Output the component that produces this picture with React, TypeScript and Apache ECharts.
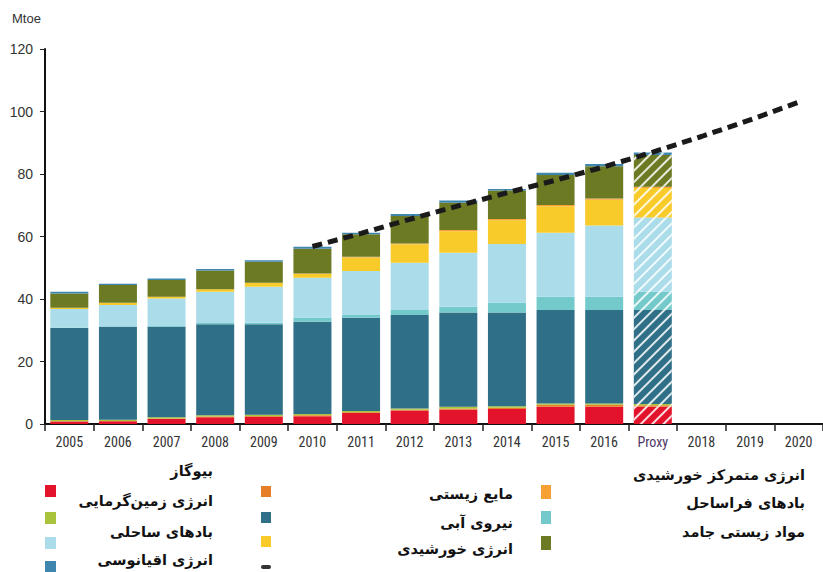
import React, { useEffect, useRef } from "react";
import * as echarts from "echarts";

const categories = ["2005", "2006", "2007", "2008", "2009", "2010", "2011", "2012", "2013", "2014", "2015", "2016", "Proxy", "2018", "2019", "2020"];
const yTicks = [0, 20, 40, 60, 80, 100, 120];

const biogas = [0.8, 0.9, 1.6, 2.2, 2.3, 2.5, 3.5, 4.3, 4.6, 4.8, 5.5, 5.5, 5.5, null, null, null];
const bioliquids = [0.1, 0.1, 0.2, 0.2, 0.3, 0.3, 0.3, 0.3, 0.4, 0.4, 0.7, 0.7, 0.5, null, null, null];
const geothermal = [0.4, 0.4, 0.4, 0.4, 0.4, 0.4, 0.4, 0.4, 0.5, 0.5, 0.4, 0.4, 0.4, null, null, null];
const hydro = [29.4, 29.7, 28.9, 29.1, 28.9, 29.5, 29.8, 29.9, 30.2, 30.0, 29.9, 29.9, 30.1, null, null, null];
const offshoreWind = [0.2, 0.2, 0.3, 0.4, 0.5, 1.4, 0.9, 1.6, 1.8, 3.1, 4.2, 4.2, 5.8, null, null, null];
const onshoreWind = [5.9, 6.8, 8.8, 10.0, 11.5, 12.7, 14.1, 15.1, 17.3, 18.8, 20.5, 22.8, 23.8, null, null, null];
const solarPV = [0.4, 0.7, 0.5, 0.8, 1.2, 1.3, 4.3, 5.9, 6.9, 7.6, 8.5, 8.3, 9.4, null, null, null];
const csp = [0, 0, 0, 0, 0.1, 0.1, 0.2, 0.3, 0.4, 0.4, 0.4, 0.4, 0.4, null, null, null];
const solidBiomass = [4.6, 5.7, 5.4, 6.0, 6.7, 7.9, 7.2, 8.8, 8.7, 9.1, 9.6, 10.3, 10.2, null, null, null];
const ocean = [0.5, 0.4, 0.5, 0.5, 0.5, 0.6, 0.5, 0.6, 0.7, 0.5, 0.7, 0.7, 0.8, null, null, null];
const trajectory = [null, null, null, null, null, 56.8, 61.0, 65.5, 69.8, 74.0, 78.0, 82.3, 87.0, 92.0, 97.3, 103.0];

const PROXY_INDEX = 12;

const seriesDefs = [
  { name: "بیوگاز", data: biogas, color: "#e3132c" },
  { name: "مایع زیستی", data: bioliquids, color: "#e67e27" },
  { name: "انرژی زمین‌گرمایی", data: geothermal, color: "#a9c43c" },
  { name: "نیروی آبی", data: hydro, color: "#2f6f87" },
  { name: "بادهای فراساحل", data: offshoreWind, color: "#74cacb" },
  { name: "بادهای ساحلی", data: onshoreWind, color: "#aadcea" },
  { name: "انرژی خورشیدی", data: solarPV, color: "#f8cb2a" },
  { name: "انرژی متمرکز خورشیدی", data: csp, color: "#f5a133" },
  { name: "مواد زیستی جامد", data: solidBiomass, color: "#6b7a23" },
  { name: "انرژی اقیانوسی", data: ocean, color: "#3f86ae" },
];

const legendFont = "bold 14.5px 'DejaVu Sans', sans-serif";

export default function App() {
  const ref = useRef<HTMLDivElement>(null);

  useEffect(() => {
    const chart = echarts.init(ref.current as HTMLDivElement, null, { renderer: "svg" });

    const decal = {
      symbol: "rect",
      symbolSize: 1,
      color: "rgba(255,255,255,0.85)",
      dashArrayX: [1, 0],
      dashArrayY: [2, 6],
      rotation: -Math.PI / 4,
    };

    const barSeries = seriesDefs.map((s) => ({
      name: s.name,
      type: "bar",
      stack: "total",
      barWidth: 38,
      itemStyle: { color: s.color },
      data: s.data.map((v, i) =>
        i === PROXY_INDEX ? { value: v, itemStyle: { color: s.color, decal } } : v
      ),
    }));

    const sq = (x: number, y: number, w: number, h: number, color: string) => ({
      type: "rect",
      shape: { x, y, width: w, height: h },
      style: { fill: color },
      silent: true,
    });
    const txt = (x: number, y: number, text: string) => ({
      type: "text",
      x,
      y,
      style: { text, font: legendFont, fill: "#111", align: "right", verticalAlign: "middle" },
      silent: true,
    });

    const option = {
      animation: false,
      backgroundColor: "#ffffff",
      grid: { left: 45, right: -7, top: 49, bottom: 148 },
      xAxis: {
        type: "category",
        data: categories,
        axisLine: { lineStyle: { color: "#111", width: 2 } },
        axisTick: { show: true, length: 7, lineStyle: { color: "#222", width: 1.5 } },
        axisLabel: {
          margin: 11,
          fontSize: 14,
          fontFamily: "'Liberation Sans Narrow', 'Arial Narrow', 'Roboto Condensed', sans-serif",
          color: (v: string) => (v === "Proxy" ? "#4e3566" : "#333"),
        },
      },
      yAxis: {
        type: "value",
        min: yTicks[0],
        max: yTicks[yTicks.length - 1],
        interval: 20,
        axisLine: { show: true, lineStyle: { color: "#111", width: 2 } },
        axisTick: { show: true, length: 5, lineStyle: { color: "#222", width: 1 } },
        axisLabel: {
          margin: 12,
          fontSize: 14,
          fontFamily: "'Liberation Sans Narrow', 'Arial Narrow', sans-serif",
          color: "#333",
        },
        splitLine: { show: false },
      },
      series: [
        ...barSeries,
        {
          name: "trajectory",
          type: "line",
          data: trajectory,
          symbol: "none",
          lineStyle: { color: "#1a1a1a", width: 5, type: [10, 6] },
          z: 5,
        },
      ],
      graphic: [
        {
          type: "text",
          left: 12,
          top: 12,
          style: { text: "Mtoe", font: "13px 'Liberation Sans Narrow', 'Arial Narrow', sans-serif", fill: "#333" },
        },
        // left column squares
        sq(45, 485, 11, 12, seriesDefs[0].color),
        sq(45, 512, 11, 12, seriesDefs[2].color),
        sq(45, 537, 11, 12, seriesDefs[5].color),
        sq(45, 561, 11, 12, seriesDefs[9].color),
        // middle column squares
        sq(261, 486, 10, 11, seriesDefs[1].color),
        sq(261, 512, 10, 11, seriesDefs[3].color),
        sq(261, 536, 10, 11, seriesDefs[6].color),
        { type: "rect", shape: { x: 261, y: 565, width: 10, height: 4, r: 2 }, style: { fill: "#333" }, silent: true },
        // right column squares
        sq(541, 485, 10, 14, seriesDefs[7].color),
        sq(541, 511, 10, 13, seriesDefs[4].color),
        sq(541, 536, 10, 14, seriesDefs[8].color),
        // labels
        txt(213, 471, seriesDefs[0].name),
        txt(213, 501, seriesDefs[2].name),
        txt(213, 532, seriesDefs[5].name),
        txt(213, 560, seriesDefs[9].name),
        txt(513, 494, seriesDefs[1].name),
        txt(513, 523, seriesDefs[3].name),
        txt(513, 549, seriesDefs[6].name),
        txt(805, 475, seriesDefs[7].name),
        txt(805, 503, seriesDefs[4].name),
        txt(805, 532, seriesDefs[8].name),
      ],
    };

    chart.setOption(option as any);
    return () => chart.dispose();
  }, []);

  return (
    <div
      ref={ref}
      style={{ position: "fixed", left: 0, top: 0, width: 823, height: 572, background: "#fff" }}
    />
  );
}
